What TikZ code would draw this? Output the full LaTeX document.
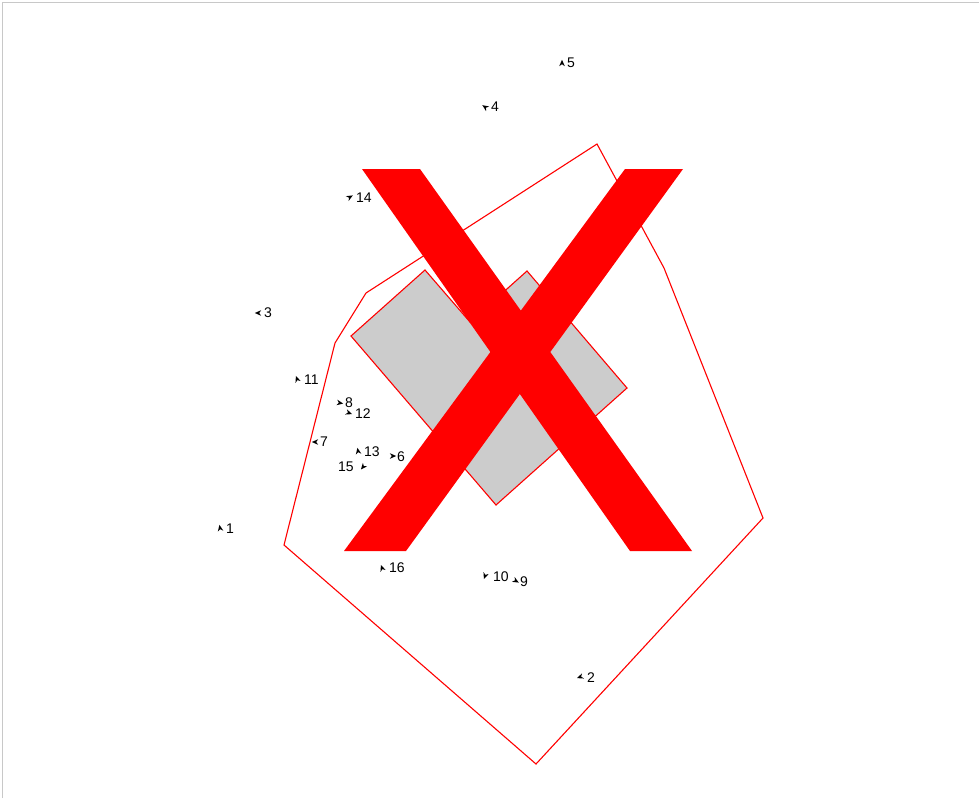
\documentclass[tikz,border=0pt]{standalone}
\usepackage{fontspec}
\setmainfont{Liberation Sans}
\begin{document}
\begin{tikzpicture}[x=1pt,y=-1pt,
  redline/.style={draw=red,line width=1.1pt,line join=miter},
  lbl/.style={font=\fontsize{14}{14}\selectfont,inner sep=0pt,anchor=west}]
\useasboundingbox (0,0) rectangle (979,798);
\fill[white] (0,0) rectangle (979,798);
\draw[color={rgb,255:red,200;green,200;blue,200},line width=1.5pt] (2.5,798) -- (2.5,2.5) -- (979,2.5);
% outer polygon
\draw[redline] (597,144) -- (664,268) -- (763,518) -- (536,764) -- (284,545) -- (335,343) -- (366,293) -- cycle;
% grey shape
\filldraw[redline,fill={rgb,255:red,204;green,204;blue,204}] (425,270) -- (470,322) -- (527,271) -- (627,388) -- (496,505) -- (351,336) -- cycle;
% red X
\fill[red] (362,169) -- (420,169) -- (692,551) -- (630,551) -- cycle;
\fill[red] (625,169) -- (683,169) -- (406,551) -- (344,551) -- cycle;
% markers
\newcommand{\mymk}[3]{\fill[shift={(#1,#2)},rotate=#3] (3.2pt,0pt) -- (-3.2pt,2.8pt) -- (-1.2pt,0pt) -- (-3.2pt,-2.8pt) -- cycle;}
\mymk{220}{528}{100} \node[lbl] (l1) at (226,529) {1};
\mymk{580}{677}{200} \node[lbl] (l2) at (587,678) {2};
\mymk{258}{313}{180} \node[lbl] (l3) at (264,313) {3};
\mymk{485}{107}{145} \node[lbl] (l4) at (491,107) {4};
\mymk{562}{63}{90} \node[lbl] (l5) at (567,63) {5};
\mymk{393}{456}{0} \node[lbl] (l6) at (397,457) {6};
\mymk{315}{442}{180} \node[lbl] (l7) at (320,442) {7};
\mymk{340}{403}{-10} \node[lbl] (l8) at (345,403) {8};
\mymk{516}{581}{-30} \node[lbl] (l9) at (520,582) {9};
\mymk{485}{576}{250} \node[lbl] (l10) at (493,577) {10};
\mymk{297}{379}{110} \node[lbl] (l11) at (304,380) {11};
\mymk{349}{413}{-20} \node[lbl] (l12) at (355,414) {12};
\mymk{358}{451}{100} \node[lbl] (l13) at (364,452) {13};
\mymk{350}{197}{30} \node[lbl] (l14) at (356,198) {14};
\mymk{363}{467}{230} \node[lbl] (l15) at (338,467) {15};
\mymk{382}{568}{110} \node[lbl] (l16) at (389,568) {16};
\end{tikzpicture}
\end{document}
